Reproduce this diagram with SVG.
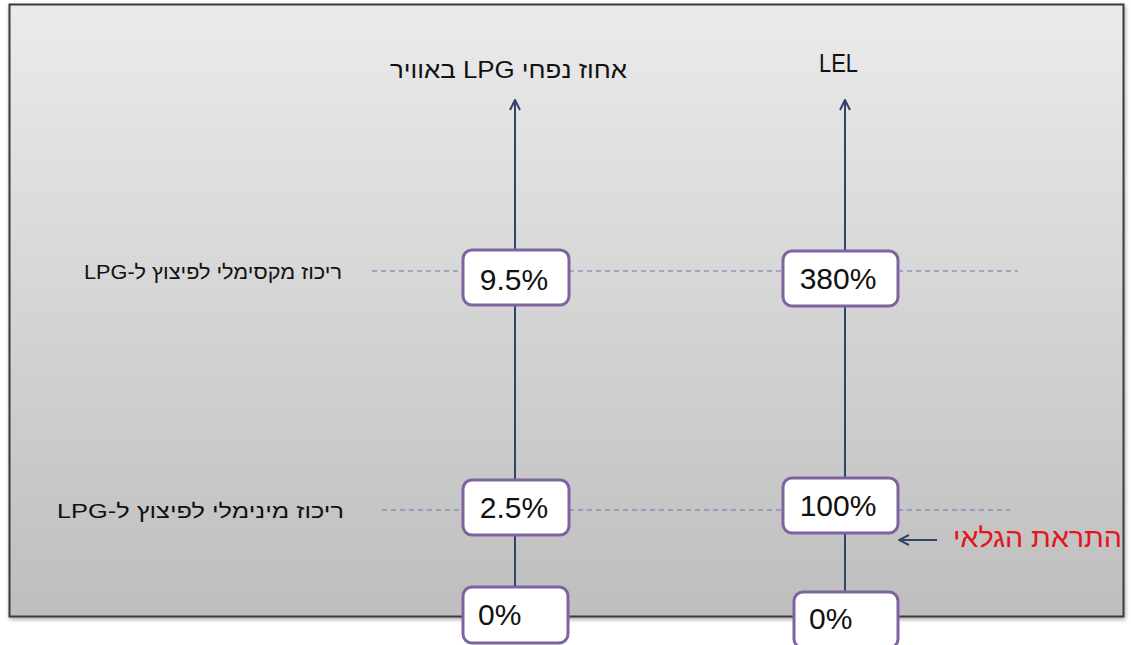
<svg xmlns="http://www.w3.org/2000/svg" width="1131" height="645" viewBox="0 0 1131 645">
<defs>
<linearGradient id="bg" x1="0" y1="0" x2="0" y2="1">
<stop offset="0" stop-color="#ebebeb"/>
<stop offset="1" stop-color="#bebebe"/>
</linearGradient>
<filter id="sh" x="-5%" y="-5%" width="110%" height="110%">
<feGaussianBlur in="SourceAlpha" stdDeviation="2"/>
<feOffset dx="1" dy="2"/>
<feComponentTransfer><feFuncA type="linear" slope="0.35"/></feComponentTransfer>
<feMerge><feMergeNode/><feMergeNode in="SourceGraphic"/></feMerge>
</filter>
<marker id="ah" viewBox="0 0 12 12" refX="11" refY="6" markerWidth="12" markerHeight="12" markerUnits="userSpaceOnUse" orient="auto">
<path d="M1,1 L11,6 L1,11" fill="none" stroke="#2e4468" stroke-width="2"/>
</marker>
<style>
.ax{stroke:#2e4468;stroke-width:2;fill:none}
.dash{stroke:#5a7cae;stroke-width:1;stroke-dasharray:5 4;fill:none}
.box{fill:#ffffff;stroke:#7f63a1;stroke-width:3}
.val{font-family:"Liberation Sans","DejaVu Sans",sans-serif;font-size:30px;fill:#111}
.he{font-family:"Liberation Sans","DejaVu Sans",sans-serif;fill:#111}
</style>
</defs>
<rect x="9.5" y="4.5" width="1114" height="612" fill="url(#bg)" stroke="#3a3a3a" stroke-width="2" filter="url(#sh)"/>
<g id="connectors">
<line class="ax" x1="515" y1="587" x2="515" y2="100" marker-end="url(#ah)"/>
<line class="ax" x1="845" y1="592" x2="845" y2="100" marker-end="url(#ah)"/>
<line class="dash" x1="372" y1="271" x2="463" y2="271"/>
<line class="dash" x1="569" y1="271" x2="783" y2="271"/>
<line class="dash" x1="898" y1="271" x2="1018" y2="271"/>
<line class="dash" x1="382" y1="510" x2="463" y2="510"/>
<line class="dash" x1="569" y1="510" x2="783" y2="510"/>
<line class="dash" x1="898" y1="510" x2="1010" y2="510"/>
<line class="ax" x1="937" y1="540" x2="899" y2="540" marker-end="url(#ah)"/>
</g>
<g id="title-left"><text class="he" x="508.5" y="78" font-size="24" text-anchor="middle" direction="rtl" textLength="237" lengthAdjust="spacingAndGlyphs">אחוז נפחי LPG באוויר</text></g>
<g id="title-right"><text class="he" x="838.5" y="72" font-size="26" text-anchor="middle" textLength="39" lengthAdjust="spacingAndGlyphs">LEL</text></g>
<g id="label-max"><text class="he" x="213" y="279" font-size="20" text-anchor="middle" direction="rtl" textLength="258" lengthAdjust="spacingAndGlyphs">ריכוז מקסימלי לפיצוץ ל-LPG</text></g>
<g id="label-min"><text class="he" x="200.5" y="518" font-size="20" text-anchor="middle" direction="rtl" textLength="287" lengthAdjust="spacingAndGlyphs">ריכוז מינימלי לפיצוץ ל-LPG</text></g>
<g id="label-alarm"><text x="1037.5" y="547" font-family="Liberation Sans, DejaVu Sans, sans-serif" font-size="27" fill="#e3141b" text-anchor="middle" direction="rtl" textLength="169" lengthAdjust="spacingAndGlyphs">התראת הגלאי</text></g>
<g id="n-95"><rect class="box" x="463" y="250" width="106" height="55" rx="9"/><text class="val" x="514" y="290" text-anchor="middle">9.5%</text></g>
<g id="n-380"><rect class="box" x="783" y="251" width="115" height="55" rx="9"/><text class="val" x="838" y="289" text-anchor="middle">380%</text></g>
<g id="n-25"><rect class="box" x="463" y="480" width="106" height="55" rx="9"/><text class="val" x="514" y="518" text-anchor="middle">2.5%</text></g>
<g id="n-100"><rect class="box" x="783" y="478" width="115" height="55" rx="9"/><text class="val" x="838" y="516" text-anchor="middle">100%</text></g>
<g id="n-0a"><rect class="box" x="463" y="587" width="105" height="56" rx="9"/><text class="val" x="478" y="625">0%</text></g>
<g id="n-0b"><rect class="box" x="794" y="592" width="104" height="56" rx="9"/><text class="val" x="809" y="629">0%</text></g>
</svg>
